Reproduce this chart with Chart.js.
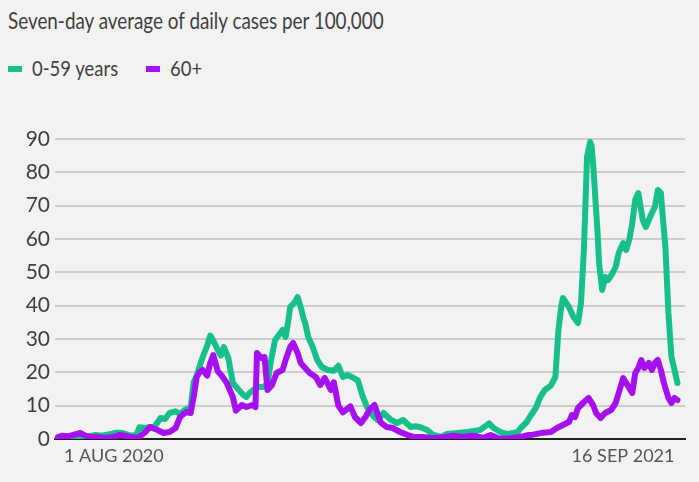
<!DOCTYPE html>
<html>
<head>
<meta charset="utf-8">
<script src="https://cdn.jsdelivr.net/npm/chart.js@4/dist/chart.umd.min.js"></script>
<style>
  html, body { margin: 0; padding: 0; background: #f2f2f2; }
  #wrap { position: relative; width: 699px; height: 482px; overflow: hidden; font-family: Lato, "Noto Sans", sans-serif; color: #3f3f3f; }
  #title { position: absolute; left: 8px; top: 6px; font-size: 23px; white-space: nowrap; transform: scaleX(0.82); transform-origin: 0 0; }
  #legend { position: absolute; left: 8px; top: 55px; font-size: 22px; white-space: nowrap; }
  .item { position: absolute; top: 0; white-space: nowrap; }
  .sw { position: absolute; top: 11px; width: 14px; height: 6px; }
  .lab { position: absolute; top: -1px; transform: scaleX(0.84); transform-origin: 0 0; }
  canvas { position: absolute; left: 0; top: 0; }
</style>
</head>
<body>
<div id="wrap">
  <div id="title">Seven-day average of daily cases per 100,000</div>
  <div id="legend"></div>
  <canvas id="c" width="699" height="482"></canvas>
</div>
<script>
// ---- data (day offsets from first plotted day) ----
const seriesNames = ['0-59 years', '60+'];
const seriesColors = ['#17bf8d', '#a60ff0'];

const youngDays = [0,5,9,15,20,25,29,35,39,43,48,52,54,58,61,64,68,71,74,78,81,84,88,90,92,96,99,101,103,106,108,110,113,116,120,123,125,127,132,136,139,141,144,147,149,151,153,154,157,159,161,163,164,166,169,172,175,179,183,186,189,192,195,199,202,205,209,212,216,221,225,229,234,237,240,245,249,254,258,265,272,276,280,284,286,289,294,298,302,305,307,309,311,313,317,320,323,327,330,332,334,335,339,342,345,347,349,351,353,354,355,358,359,361,363,365,368,370,372,375,377,379,381,383,385,388,390,392,394,396,398,400,402,403,405,407,408,411];
const youngValues = [0.5,0.6,0.3,0.3,0.8,1.2,1.0,1.5,1.9,1.8,1.0,1.2,3.5,3.3,3.6,3.6,6.3,6.0,7.8,8.3,7.5,8.7,9.5,17,19,24.6,28,31,29.5,26.7,25,27.6,24.3,16.8,14.7,13.2,12.6,13.8,15.6,15.6,16.5,22.8,29.7,31.5,32.7,30.6,36,39.6,41,42.6,39.6,36,34.8,30.6,27.6,23.7,21.6,20.7,20.5,22,18.6,19.2,18.6,17.5,13,9.6,7,5.7,7.8,5.7,4.8,5.7,3.6,3.8,3.6,2.7,1.2,0.6,1.5,1.8,2.1,2.4,2.7,4.0,4.7,3.3,2.0,1.5,1.8,2.1,3.3,4.2,5.1,6.6,9.3,12.6,14.7,16,18.6,32.7,40,42.3,39.6,36.6,34.8,40.8,57.6,84.6,89.1,88,82.8,61.8,52.8,44.7,48.6,47.7,49.8,51.6,55.8,58.8,56.7,59.7,64.8,71.7,73.8,65.7,63.6,65.7,67.8,69.6,74.7,73.8,62.7,57.6,37.8,24.6,22.8,16.8];

const oldDays = [0,3,7,10,15,18,21,26,31,35,38,41,44,48,53,58,61,66,70,74,78,81,85,88,90,92,94,96,99,101,103,106,109,112,116,118,122,125,129,131,132,135,137,139,142,145,149,151,154,156,159,161,164,167,171,174,177,181,183,186,189,194,197,201,204,207,210,214,218,222,227,232,236,242,249,256,262,269,274,278,282,287,292,298,305,311,315,322,327,331,335,339,341,343,345,349,352,355,357,360,363,367,370,372,375,377,379,381,383,385,387,389,392,394,396,398,400,402,405,407,409,411];
const oldValues = [0.5,1.0,0.8,1.2,1.8,1.0,0.6,0.6,0.3,0.5,0.8,1.2,1.0,0.6,0.3,2.1,3.6,2.7,1.8,2.1,3.3,6.6,8.1,7.8,12.6,18.6,20.1,20.7,19,22.8,25.2,20.3,18.8,16.8,12.6,8.5,10.2,9.6,10.2,9.6,25.8,24.3,24.6,14.7,16.2,19.8,20.7,23.7,27.6,28.8,25.8,22.8,21.3,19.8,18.6,16.2,18.3,14.7,17,10,8,9.8,6.6,4.8,6.6,9,10.2,5,3.6,3.3,2.1,1.2,0.6,0.6,0.2,0.5,1.0,0.6,1.0,0.8,0.3,1.2,0.2,0.1,0.5,1.1,1.3,1.9,2.1,3.3,4.2,5.1,7.2,6.6,9.3,11.1,12.3,10.2,7.8,6.3,7.8,8.7,10.8,13.8,18.3,16.8,15.3,13.8,19.8,21.3,23.7,21.3,22.8,20.7,22.8,23.7,20.7,16.8,12.3,10.8,12.3,11.7];

const yTicks = [0,10,20,30,40,50,60,70,80,90];
const xTickDays = [4, 409];
const xTickLabels = ['1 AUG 2020', '16 SEP 2021'];

// ---- HTML legend ----
const legend = document.getElementById('legend');
const legendX = [0, 138];
seriesNames.forEach((n, i) => {
  const it = document.createElement('div');
  it.className = 'item';
  it.style.left = legendX[i] + 'px';
  it.innerHTML = '<span class="sw" style="left:0;background:' + seriesColors[i] + '"></span><span class="lab" style="left:24px">' + n + '</span>';
  legend.appendChild(it);
});

const toPts = (d, v) => d.map((x, i) => ({ x: x, y: v[i] }));

new Chart(document.getElementById('c'), {
  type: 'line',
  data: {
    datasets: [
      { label: seriesNames[0], data: toPts(youngDays, youngValues), borderColor: seriesColors[0], order: 1 },
      { label: seriesNames[1], data: toPts(oldDays, oldValues), borderColor: seriesColors[1], order: 0 }
    ]
  },
  options: {
    responsive: false,
    animation: false,
    devicePixelRatio: 1,
    layout: { padding: { top: 139, right: 14, left: 0, bottom: 0 } },
    elements: {
      line: { borderWidth: 6, tension: 0, borderJoinStyle: 'round', borderCapStyle: 'round', fill: false },
      point: { radius: 0, hoverRadius: 0 }
    },
    plugins: { legend: { display: false }, tooltip: { enabled: false }, title: { display: false } },
    scales: {
      x: {
        type: 'linear',
        min: -2, max: 416,
        afterBuildTicks: (s) => { s.ticks = xTickDays.map(v => ({ value: v })); },
        afterFit: (s) => { s.height = 43; },
        ticks: {
          autoSkip: false, maxRotation: 0, align: 'inner', padding: 6,
          color: '#555555',
          font: { family: 'Lato', size: 18 },
          callback: (v, i) => xTickLabels[i]
        },
        grid: { display: false, drawTicks: false },
        border: { display: true, color: '#222222', width: 2 }
      },
      y: {
        min: 0, max: 90,
        afterBuildTicks: (s) => { s.ticks = yTicks.map(v => ({ value: v })); },
        afterFit: (s) => { s.width = 55; },
        ticks: { padding: 5, color: '#3f3f3f', font: { family: 'Lato', size: 21 } },
        grid: { color: '#cccccc', lineWidth: 2, drawTicks: false },
        border: { display: false }
      }
    }
  }
});
</script>
</body>
</html>
